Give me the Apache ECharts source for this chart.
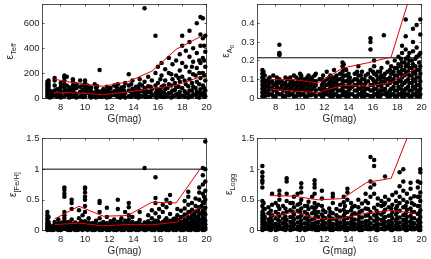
<!DOCTYPE html>
<html><head><meta charset="utf-8">
<script src="https://cdn.jsdelivr.net/npm/echarts@6/dist/echarts.min.js"></script>
<style>html,body{margin:0;padding:0;background:#fff}#c{width:431px;height:259px}</style>
</head><body><div id="c"></div>
<script>
// ---- data: columns of [G(mag), [errors...]] ----
const teffCols = [
 [6.9,[10,30,50,70,90,110,130]],[7.0,[20,45,60,80,100,120,140]],[7.1,[5,25]],[7.3,[15,40]],
 [7.5,[20,60,100,140,160]],[7.7,[10,35,70]],[8.0,[5,30,55,90,120]],[8.3,[15,50,80,110,140,165,180]],
 [8.5,[25,60,100,170]],[8.8,[10,40,70]],[9.0,[20,60,100,130,150]],[9.3,[5,35,80,110]],
 [9.6,[15,50,90,140]],[10.0,[10,30,60,90,120,140]],[10.2,[40,75,100]],[10.5,[5,25,55,85]],
 [10.8,[15,45,110]],[11.0,[30,60,95]],[11.2,[10,50,225]],[11.5,[20,40,70]],[11.8,[5,30,60,90]],
 [12.1,[15,45,80]],[12.4,[25,55,100]],[12.7,[10,35,70,110]],[13.0,[20,50,85]],[13.3,[5,40,120]],
 [13.6,[15,60,100,190]],[13.9,[30,75,140]],[14.2,[10,45,90]],[14.5,[20,60,110,150]],
 [14.9,[35,80,130,720]],[15.2,[10,50,95,170]],[15.5,[25,70,140]],[15.8,[15,40,100,200,500]],
 [16.0,[30,60,120,250]],[16.3,[10,50,90,180,280]],[16.6,[20,70,140,230]],[16.9,[40,110,200,320]],
 [17.2,[15,60,150,270]],[17.5,[30,90,180,300]],[17.8,[10,50,130,220,350]],[18.0,[20,80,170,280,420,500]],
 [18.3,[40,110,250,380]],[18.6,[15,60,150,210,330,450,540]],[18.9,[30,90,190,290,400]],
 [19.2,[10,50,130,240,360,600]],[19.5,[25,70,160,280,420,510,650]],[19.7,[40,100,200,320,480,640]],
 [19.9,[15,60,140,250,370,500]]
];
const teffCols2 = [
 [7.2,[8,35,55]],[7.9,[15,45,70]],[8.7,[5,30,55,85]],[9.1,[12,40,75]],[9.8,[8,28,65,100]],
 [10.4,[12,40,70]],[10.9,[5,25,80]],[11.4,[10,32,55]],[11.7,[15,45]],[12.0,[8,30,65]],
 [12.6,[18,50,85]],[12.9,[5,35,65]],[13.2,[15,28,60,90]],[13.8,[10,45,110]],[14.1,[25,60]],
 [14.4,[5,35,80]],[14.7,[15,55,100]],[15.0,[8,25,65]],[15.4,[10,45,90]],[15.9,[5,28,70]],
 [16.2,[15,35,65,150]],[16.5,[8,40,100]],[16.8,[12,30,80]],[17.1,[5,45,100,190]],[17.4,[18,65,120]],
 [17.7,[8,35,90,160]],[18.2,[10,55,140]],[18.5,[5,30,95]],[18.8,[12,60,120,250]],[19.1,[25,80,180]],
 [19.4,[5,40,110,200,300]],[19.8,[10,30,80,180,300,420]]
];
const a0Cols = [
 [6.9,[0.01,0.03,0.05,0.07,0.09,0.11,0.13,0.15]],[7.0,[0.02,0.04,0.06,0.08,0.10,0.12,0.14]],
 [7.2,[0.03,0.06,0.09]],[7.5,[0.02,0.05,0.08,0.11]],[7.8,[0.01,0.04,0.07,0.12]],[8.1,[0.03,0.06,0.09,0.11]],
 [8.3,[0.02,0.05,0.08,0.10,0.23,0.235,0.24,0.285]],[8.6,[0.01,0.04,0.07]],[8.9,[0.03,0.06,0.10]],
 [9.2,[0.02,0.05,0.08,0.11]],[9.5,[0.01,0.04,0.07,0.12]],[9.8,[0.03,0.06,0.09]],
 [10.1,[0.02,0.05,0.08,0.11,0.12]],[10.4,[0.01,0.04,0.07,0.10]],[10.7,[0.03,0.06,0.09,0.12]],
 [11.0,[0.02,0.05,0.08,0.11]],[11.3,[0.01,0.04,0.07,0.09,0.13]],[11.6,[0.02,0.05,0.10]],
 [11.9,[0.01,0.03,0.06,0.08,0.12]],[12.2,[0.02,0.04,0.07,0.10,0.14]],[12.5,[0.01,0.03,0.06,0.09,0.12]],
 [12.8,[0.02,0.05,0.08,0.11,0.15]],[13.1,[0.01,0.04,0.07,0.10]],[13.5,[0.02,0.05,0.08,0.11,0.14,0.17,0.19]],
 [13.8,[0.01,0.03,0.06,0.09,0.12,0.15]],[14.1,[0.02,0.05,0.08,0.11]],[14.5,[0.01,0.04,0.07,0.10,0.13]],
 [14.8,[0.02,0.05,0.09,0.12,0.17]],[15.1,[0.01,0.03,0.06,0.10,0.14]],[15.4,[0.02,0.05,0.08,0.12]],
 [15.8,[0.01,0.04,0.07,0.11,0.15,0.26,0.30,0.32]],[16.1,[0.02,0.05,0.09,0.13,0.17,0.20]],
 [16.4,[0.01,0.03,0.07,0.10,0.14]],[16.7,[0.02,0.06,0.09,0.12,0.16]],[16.9,[0.04,0.08,0.11,0.335]],
 [17.2,[0.01,0.03,0.07,0.10,0.14,0.19]],[17.5,[0.02,0.05,0.09,0.13,0.17]],
 [17.8,[0.01,0.04,0.08,0.12,0.16,0.20]],[18.1,[0.02,0.06,0.10,0.14,0.18,0.22]],
 [18.4,[0.01,0.03,0.07,0.11,0.15,0.19,0.24,0.28]],[18.7,[0.02,0.05,0.09,0.13,0.17,0.21,0.26,0.33,0.42]],
 [19.0,[0.01,0.04,0.08,0.12,0.16,0.20,0.24]],[19.3,[0.02,0.06,0.10,0.14,0.18,0.25,0.30,0.37]],
 [19.6,[0.01,0.03,0.07,0.11,0.15,0.22,0.27,0.39]],[19.9,[0.02,0.05,0.09,0.13,0.17,0.24,0.34,0.42]]
];
const a0Cols2 = [
 [7.1,[0.01,0.05,0.08,0.12]],[7.4,[0.015,0.04,0.07,0.1]],[7.7,[0.02,0.055,0.09]],[8.0,[0.01,0.045,0.075]],
 [8.5,[0.02,0.06,0.09]],[8.8,[0.01,0.05,0.08,0.11]],[9.1,[0.015,0.04,0.07,0.1]],[9.4,[0.02,0.06,0.09]],
 [9.7,[0.01,0.05,0.08,0.11]],[10.0,[0.015,0.04,0.07,0.1,0.13]],[10.3,[0.02,0.06,0.09]],
 [10.6,[0.01,0.05,0.08,0.11]],[10.9,[0.015,0.04,0.07,0.1]],[11.2,[0.02,0.06,0.09,0.12]],
 [11.8,[0.01,0.04,0.07,0.1]],[12.0,[0.02,0.05,0.09]],[12.4,[0.015,0.045,0.08,0.11]],
 [12.7,[0.01,0.04,0.07,0.1]],[13.0,[0.02,0.06,0.09,0.12]],[13.3,[0.01,0.04,0.07,0.1,0.13]],
 [13.6,[0.015,0.035,0.065,0.09,0.12,0.155,0.18]],[14.0,[0.01,0.04,0.07,0.1,0.13]],[14.3,[0.02,0.06,0.09]],
 [14.7,[0.01,0.04,0.07,0.1,0.14]],[15.0,[0.02,0.05,0.08,0.12]],[15.3,[0.01,0.04,0.07,0.1]],
 [15.6,[0.015,0.05,0.09,0.13]],[16.0,[0.01,0.04,0.07,0.1,0.14]],[16.3,[0.02,0.05,0.08,0.12]],
 [16.6,[0.01,0.04,0.075,0.11,0.14]],[17.0,[0.02,0.05,0.09,0.13]],[17.4,[0.01,0.04,0.08,0.11,0.15]],
 [17.7,[0.02,0.06,0.1,0.14]],[18.0,[0.01,0.04,0.08,0.12,0.16]],[18.3,[0.02,0.05,0.09,0.13,0.17,0.21]],
 [18.6,[0.01,0.04,0.08,0.12,0.15,0.19]],[18.9,[0.02,0.06,0.1,0.14,0.18,0.22]],
 [19.2,[0.01,0.04,0.08,0.12,0.16,0.2]],[19.5,[0.02,0.05,0.09,0.13,0.17,0.21]],
 [19.8,[0.01,0.04,0.07,0.11,0.15,0.19,0.23]]
];
const fehCols = [
 [6.9,[0.01,0.03,0.06,0.09,0.12,0.16,0.2,0.25,0.3]],[7.0,[0.02,0.04,0.07,0.1,0.14,0.22]],[7.2,[0.01,0.03,0.05]],
 [7.5,[0.02,0.06,0.1,0.14]],[7.8,[0.01,0.04,0.08,0.12,0.18]],[8.1,[0.02,0.05,0.09,0.13]],
 [8.3,[0.03,0.07,0.11,0.15,0.2,0.25,0.3,0.55,0.6,0.66,0.7]],[8.6,[0.01,0.04,0.08,0.14]],
 [8.9,[0.02,0.06,0.1,0.18,0.35,0.45,0.5]],[9.2,[0.01,0.05,0.09,0.13]],[9.5,[0.02,0.07,0.11,0.2,0.33]],
 [9.8,[0.01,0.04,0.08,0.12,0.25]],[10.0,[0.03,0.06,0.1,0.15,0.3,0.4,0.5,0.55,0.62,0.68,0.7]],
 [10.3,[0.02,0.05,0.09,0.13,0.2]],[10.6,[0.01,0.04,0.08,0.12]],[10.9,[0.02,0.06,0.1,0.16]],
 [11.2,[0.01,0.03,0.07,0.11,0.2,0.3,0.45,0.48]],[11.5,[0.02,0.05,0.09,0.14]],
 [11.8,[0.01,0.04,0.08,0.12,0.22,0.37]],[12.1,[0.02,0.06,0.1,0.15]],[12.4,[0.01,0.03,0.07,0.11,0.18]],
 [12.7,[0.02,0.05,0.09,0.14,0.35,0.5]],[13.0,[0.01,0.04,0.08,0.12,0.2]],[13.3,[0.02,0.06,0.1,0.16,0.3]],
 [13.6,[0.01,0.03,0.07,0.11,0.18,0.25,0.38,0.45]],[13.9,[0.02,0.05,0.09,0.14,0.22]],
 [14.2,[0.01,0.04,0.08,0.12]],[14.5,[0.02,0.06,0.1,0.17,0.3]],[14.9,[0.01,0.03,0.07,0.13,1.02]],
 [15.2,[0.02,0.05,0.09,0.15,0.25]],[15.5,[0.01,0.04,0.08,0.12,0.2,0.33]],
 [15.8,[0.02,0.06,0.1,0.16,0.28,0.45,0.53,0.87]],[16.1,[0.01,0.03,0.07,0.12,0.22,0.35]],
 [16.4,[0.02,0.05,0.09,0.14,0.3,0.42]],[16.7,[0.01,0.04,0.08,0.13,0.2,0.38,0.5]],
 [17.0,[0.02,0.06,0.1,0.16,0.27,0.45,0.58]],[17.3,[0.01,0.03,0.07,0.12,0.19]],
 [17.6,[0.02,0.05,0.09,0.15,0.25,0.35]],[17.9,[0.01,0.04,0.08,0.13,0.22,0.32]],
 [18.2,[0.02,0.06,0.11,0.17,0.26,0.36,0.48]],[18.5,[0.01,0.03,0.07,0.12,0.2,0.3,0.42,0.55,0.63]],
 [18.8,[0.02,0.05,0.09,0.15,0.24,0.34,0.45]],[19.1,[0.01,0.04,0.08,0.13,0.21,0.31,0.4,0.52]],
 [19.4,[0.02,0.06,0.11,0.18,0.27,0.38,0.5,0.62,0.7]],
 [19.7,[0.01,0.03,0.07,0.14,0.23,0.33,0.46,0.6,0.75,0.9,1.02]],
 [19.9,[0.02,0.05,0.1,0.16,0.26,0.37,0.5,0.65,0.8,1.0,1.45]]
];
const fehCols2 = [
 [7.1,[0.02,0.05,0.08]],[7.4,[0.01,0.04,0.07]],[7.7,[0.02,0.06,0.1]],[8.0,[0.01,0.04,0.07,0.11]],
 [8.5,[0.02,0.05,0.09]],[8.8,[0.01,0.04,0.07,0.12]],[9.1,[0.02,0.06,0.1]],[9.4,[0.01,0.04,0.08]],
 [9.7,[0.02,0.06,0.1,0.15]],[10.2,[0.01,0.04,0.07,0.11]],[10.5,[0.02,0.05,0.09]],[10.8,[0.01,0.04,0.07,0.12]],
 [11.4,[0.01,0.04,0.08,0.12]],[11.7,[0.02,0.06,0.1]],[12.0,[0.01,0.04,0.07]],[12.3,[0.02,0.05,0.09,0.13]],
 [12.6,[0.01,0.04,0.07]],[12.9,[0.02,0.06,0.1,0.15]],[13.2,[0.01,0.04,0.08]],[13.5,[0.02,0.05,0.09,0.13]],
 [13.8,[0.01,0.04,0.07,0.11]],[14.1,[0.02,0.06,0.1]],[14.4,[0.01,0.04,0.08,0.13]],[14.7,[0.02,0.05,0.09]],
 [15.0,[0.01,0.04,0.08,0.12]],[15.4,[0.02,0.06,0.1]],[15.7,[0.01,0.04,0.08,0.14]],[16.0,[0.02,0.05,0.09,0.15]],
 [16.3,[0.01,0.04,0.07,0.12]],[16.6,[0.02,0.06,0.1,0.17]],[16.9,[0.01,0.04,0.08,0.14]],
 [17.2,[0.02,0.05,0.1,0.16]],[17.5,[0.01,0.04,0.08,0.13,0.2]],[17.8,[0.02,0.06,0.1,0.17]],
 [18.1,[0.01,0.04,0.08,0.14,0.22]],[18.4,[0.02,0.05,0.1,0.16,0.25]],[18.7,[0.01,0.04,0.08,0.13,0.2,0.3]],
 [19.0,[0.02,0.06,0.11,0.18,0.27]],[19.3,[0.01,0.04,0.09,0.15,0.23,0.33]],[19.6,[0.02,0.05,0.1,0.18,0.28,0.4]],
 [19.8,[0.01,0.04,0.08,0.12,0.2,0.3,0.45,0.55]]
];
const loggCols = [
 [6.9,[0.01,0.05,0.1,0.15,0.2,0.25,0.3,0.4,0.48,0.7,0.78,0.82,0.88,0.95,1.05]],[7.1,[0.03,0.08,0.13,0.22,0.35]],
 [7.4,[0.02,0.07,0.12,0.18,0.28,0.38]],[7.7,[0.04,0.1,0.16,0.25,0.42,0.6]],[8.0,[0.01,0.06,0.11,0.2,0.3,0.45]],
 [8.3,[0.03,0.08,0.15,0.24,0.35,0.5,0.58,0.65]],[8.6,[0.02,0.05,0.12,0.19,0.28,0.4]],
 [8.9,[0.04,0.09,0.17,0.3,0.48,0.6,0.8,0.85]],[9.2,[0.01,0.07,0.14,0.22,0.33,0.45]],
 [9.5,[0.03,0.1,0.18,0.26,0.38,0.55]],[9.8,[0.02,0.06,0.13,0.21,0.32,0.42,0.6]],
 [10.1,[0.04,0.09,0.16,0.25,0.36,0.5,0.62,0.7,0.77]],[10.4,[0.01,0.05,0.12,0.2,0.3,0.4]],
 [10.7,[0.03,0.08,0.15,0.23,0.35,0.47]],[11.0,[0.02,0.06,0.11,0.18,0.28,0.38,0.55]],
 [11.2,[0.04,0.1,0.2,0.32,0.45,0.6,0.7,0.76,0.82]],[11.5,[0.01,0.07,0.14,0.22,0.3,0.42]],
 [11.8,[0.03,0.09,0.17,0.26,0.4,0.52,0.65]],[12.1,[0.02,0.05,0.12,0.2,0.3]],[12.4,[0.04,0.08,0.15,0.24,0.36]],
 [12.7,[0.01,0.06,0.11,0.19,0.28,0.45,0.55,0.6]],[13.0,[0.03,0.1,0.17,0.25,0.35]],
 [13.3,[0.02,0.07,0.13,0.21,0.32,0.42]],[13.6,[0.04,0.09,0.16,0.24,0.34,0.46,0.55]],
 [13.9,[0.01,0.05,0.12,0.2,0.3,0.5,0.62,0.68]],[14.2,[0.03,0.08,0.14,0.22,0.33,0.45]],
 [14.5,[0.02,0.06,0.11,0.18,0.28,0.4]],[14.8,[0.04,0.1,0.17,0.26,0.38,0.5]],
 [15.1,[0.01,0.07,0.13,0.21,0.32,0.44]],[15.4,[0.03,0.09,0.15,0.24,0.36,0.48,0.6]],
 [15.8,[0.02,0.05,0.12,0.2,0.3,0.55,0.7,0.8,1.2]],[16.1,[0.04,0.08,0.16,0.25,0.37,0.6,0.75,1.05,1.15]],
 [16.4,[0.01,0.06,0.11,0.19,0.28,0.42,0.52]],[16.7,[0.03,0.1,0.17,0.26,0.4,0.48]],
 [17.0,[0.02,0.07,0.14,0.22,0.34,0.45,0.55,0.88]],[17.3,[0.04,0.09,0.15,0.24,0.38,0.5]],
 [17.6,[0.01,0.05,0.12,0.2,0.3,0.42,0.58]],[17.9,[0.03,0.08,0.16,0.26,0.36,0.48,0.62]],
 [18.2,[0.02,0.06,0.13,0.21,0.32,0.45,0.55,0.72,0.95]],[18.5,[0.04,0.1,0.17,0.25,0.38,0.5,0.65,0.8,1.0]],
 [18.8,[0.01,0.07,0.14,0.22,0.34,0.46,0.6]],[19.1,[0.03,0.09,0.15,0.24,0.36,0.52,0.68,0.78]],
 [19.4,[0.02,0.05,0.12,0.2,0.3,0.42,0.56]],[19.7,[0.04,0.08,0.16,0.27,0.4,0.55,0.7,0.8]],
 [19.9,[0.01,0.06,0.13,0.22,0.33,0.48,0.62,0.78,0.95,1.0]]
];
const loggCols2 = [
 [7.0,[0.02,0.12,0.18,0.27,0.35,0.45]],[7.6,[0.01,0.06,0.13,0.22,0.32]],[8.2,[0.02,0.09,0.17,0.27,0.4]],
 [8.8,[0.01,0.07,0.14,0.23,0.36]],[9.4,[0.02,0.06,0.13,0.21,0.3,0.45]],[10.0,[0.01,0.07,0.14,0.22,0.31,0.44]],
 [10.6,[0.02,0.1,0.18,0.27,0.4]],[11.3,[0.01,0.06,0.13,0.26,0.38]],[11.9,[0.02,0.07,0.14,0.22,0.33]],
 [12.5,[0.01,0.06,0.12,0.2,0.3]],[13.1,[0.02,0.07,0.13,0.22]],[13.7,[0.01,0.06,0.12,0.2,0.28,0.4]],
 [14.3,[0.02,0.1,0.17,0.26,0.38]],[14.9,[0.01,0.07,0.13,0.21,0.3]],[15.6,[0.02,0.08,0.15,0.25,0.35,0.45]],
 [16.3,[0.01,0.07,0.14,0.22,0.32]],[16.9,[0.02,0.06,0.12,0.2,0.3,0.42]],[17.5,[0.01,0.08,0.15,0.25,0.36]],
 [18.0,[0.02,0.06,0.12,0.2,0.3,0.4]],[18.7,[0.01,0.05,0.11,0.18,0.28,0.4]],[19.2,[0.02,0.07,0.13,0.2,0.3,0.45]],
 [19.8,[0.01,0.05,0.1,0.18,0.28,0.4,0.55]]
];
// binned curves
const gBins = [7.5, 9.5, 11.5, 13.5, 15.5, 17.5, 19.5];
const teffUpper = [150, 115, 94, 129, 215, 390, 492];
const teffLower = [43, 40, 27, 48, 75, 102, 170];
const a0Upper = [0.098, 0.098, 0.08, 0.16, 0.187, 0.219, 0.64];
const a0Lower = [0.048, 0.036, 0.03, 0.068, 0.064, 0.082, 0.156];
const fehUpper = [0.19, 0.395, 0.233, 0.244, 0.46, 0.45, 1.01];
const fehLower = [0.097, 0.12, 0.076, 0.097, 0.092, 0.135, 0.38];
const loggUpper = [0.57, 0.56, 0.50, 0.52, 0.785, 0.85, 1.85];
const loggLower = [0.233, 0.30, 0.19, 0.20, 0.287, 0.325, 0.28];
// reference horizontal lines
const a0Limit = 0.215;
const fehLimit = 1.0;
// axis ticks
const gTicks = [8, 10, 12, 14, 16, 18, 20];
const gRange = [6.5, 20];

const FONT = 'Liberation Sans, Arial, Helvetica, sans-serif';
const TXT = '#262626';
const flat = cols => cols.flatMap(([g, vs]) => vs.map(v => [g, v]));
const pair = (xs, ys) => xs.map((x, i) => [x, ys[i]]);

const grids = [
  {left: 42.5, top: 4.5, width: 164, height: 93.5},
  {left: 257.5, top: 4.5, width: 164, height: 93.5},
  {left: 42.5, top: 138.5, width: 164, height: 92},
  {left: 257.5, top: 138.5, width: 164, height: 92}
];
const yCfg = [
  {max: 750, interval: 200, hideMax: true, name: '{e|ε}{s|Teff}', gap: 23},
  {max: 0.5, interval: 0.1, hideMax: true, name: '{e|ε}{s|A}{ss|0}', gap: 22},
  {max: 1.5, interval: 0.5, hideMax: false, name: '{e|ε}{s|[Fe/H]}', gap: 20},
  {max: 1.5, interval: 0.5, hideMax: false, name: '{e|ε}{s|Logg}', gap: 19}
];
const rich = {
  e: {fontSize: 10, fontFamily: FONT, color: TXT, verticalAlign: 'bottom', padding: [0, 0, 4, 0]},
  s: {fontSize: 7.5, fontFamily: FONT, color: TXT, verticalAlign: 'bottom', padding: [0, 0, 1.5, 0]},
  ss: {fontSize: 6, fontFamily: FONT, color: TXT, verticalAlign: 'bottom'}
};
const lineStyleAx = {color: '#262626', width: 0.8};
const xAxis = [], yAxis = [];
grids.forEach((g, i) => {
  xAxis.push({
    type: 'value', gridIndex: i, min: gRange[0], max: gRange[1], position: 'bottom',
    name: 'G(mag)', nameLocation: 'middle', nameGap: 16,
    nameTextStyle: {fontFamily: FONT, fontSize: 10, color: TXT},
    axisLine: {show: true, lineStyle: lineStyleAx, onZero: false},
    axisTick: {show: true, inside: true, length: 2, customValues: gTicks, lineStyle: lineStyleAx},
    axisLabel: {customValues: gTicks, fontFamily: FONT, fontSize: 9.5, color: TXT, margin: 4},
    splitLine: {show: false}
  });
  xAxis.push({
    type: 'value', gridIndex: i, min: gRange[0], max: gRange[1], position: 'top',
    axisLine: {show: true, lineStyle: lineStyleAx, onZero: false},
    axisTick: {show: true, inside: true, length: 2, customValues: gTicks, lineStyle: lineStyleAx},
    axisLabel: {show: false}, splitLine: {show: false}
  });
});
yCfg.forEach((c, i) => {
  yAxis.push({
    type: 'value', gridIndex: i, min: 0, max: c.max, interval: c.interval, position: 'left',
    name: c.name, nameLocation: 'middle', nameGap: c.gap,
    nameTextStyle: {rich: rich, fontFamily: FONT, color: TXT},
    axisLine: {show: true, lineStyle: lineStyleAx, onZero: false},
    axisTick: {show: true, inside: true, length: 2, lineStyle: lineStyleAx},
    axisLabel: {fontFamily: FONT, fontSize: 9.5, color: TXT, margin: 3, showMaxLabel: !c.hideMax},
    splitLine: {show: false}
  });
  yAxis.push({
    type: 'value', gridIndex: i, min: 0, max: c.max, interval: c.interval, position: 'right',
    axisLine: {show: true, lineStyle: lineStyleAx, onZero: false},
    axisTick: {show: true, inside: true, length: 2, lineStyle: lineStyleAx},
    axisLabel: {show: false}, splitLine: {show: false}
  });
});

const pts = [
  flat(teffCols).concat(flat(teffCols2)),
  flat(a0Cols).concat(flat(a0Cols2)),
  flat(fehCols).concat(flat(fehCols2)),
  flat(loggCols).concat(flat(loggCols2))
];
const ups = [teffUpper, a0Upper, fehUpper, loggUpper];
const lows = [teffLower, a0Lower, fehLower, loggLower];
const series = [];
pts.forEach((d, i) => {
  series.push({type: 'scatter', xAxisIndex: 2 * i, yAxisIndex: 2 * i, data: d,
    symbol: 'circle', symbolSize: 4.5, itemStyle: {color: '#000', opacity: 1}, silent: true, z: 2});
});
[[1, a0Limit], [2, fehLimit]].forEach(([i, v]) => {
  series.push({type: 'line', xAxisIndex: 2 * i, yAxisIndex: 2 * i, data: [[gRange[0], v], [gRange[1], v]],
    symbol: 'none', lineStyle: {color: '#000', width: 1}, silent: true, z: 3});
});
[ups, lows].forEach(arr => arr.forEach((ys, i) => {
  series.push({type: 'line', xAxisIndex: 2 * i, yAxisIndex: 2 * i, data: pair(gBins, ys),
    symbol: 'none', clip: true, lineStyle: {color: '#e00000', width: 1}, silent: true, z: 4});
}));

const chart = echarts.init(document.getElementById('c'), null, {renderer: 'canvas'});
chart.setOption({animation: false, backgroundColor: '#fff', grid: grids, xAxis, yAxis, series});
</script></body></html>
